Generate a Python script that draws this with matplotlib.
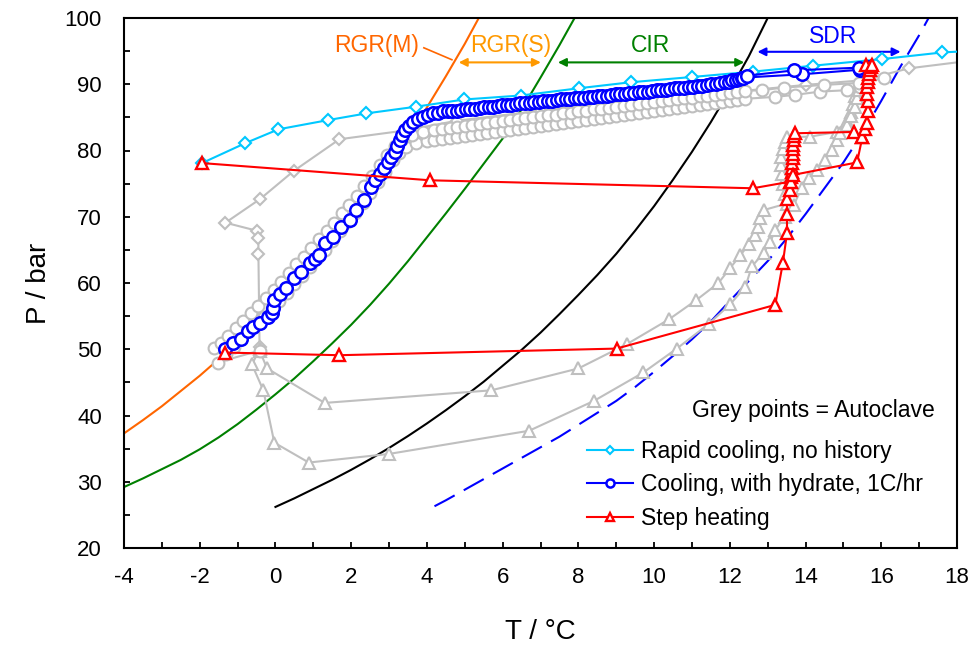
import matplotlib
matplotlib.use("Agg")
import matplotlib.pyplot as plt
import numpy as np

plt.rcParams["font.family"] = ["Liberation Sans", "DejaVu Sans"]
plt.rcParams["axes.unicode_minus"] = False

# --- Equilibrium / boundary curves ---
rgrm_T = [-4, -3.5, -3, -2.5, -2, -1.5, -1, -0.5, 0, 0.5, 1, 1.5, 2, 2.5, 3, 3.5, 4, 4.5, 5, 5.37]
rgrm_P = [37.3, 39.3, 41.4, 43.7, 46.0, 48.5, 51.1, 53.9, 56.8, 59.9, 63.1, 66.5, 70.1, 73.9, 77.9,
          82.1, 86.5, 91.2, 96.1, 100.0]

rgrs_T = [-4, -3.5, -3, -2.5, -2, -1.5, -1, -0.5, 0, 0.5, 1, 1.5, 2, 2.5, 3, 3.5, 4, 4.5, 5, 5.5,
          6, 6.5, 7, 7.5, 7.9]
rgrs_P = [29.2, 30.5, 31.9, 33.3, 34.9, 36.7, 38.7, 40.9, 43.2, 45.6, 48.2, 50.9, 53.7, 56.7, 59.9,
          63.3, 66.9, 70.5, 74.2, 78.0, 81.8, 86.2, 91.0, 95.9, 100.0]

cir_T = [0, 0.5, 1, 1.5, 2, 2.5, 3, 3.5, 4, 4.5, 5, 5.5, 6, 6.5, 7, 7.5, 8, 8.5, 9, 9.5, 10, 10.5,
         11, 11.5, 12, 12.5, 13]
cir_P = [26.2, 27.5, 28.9, 30.3, 31.8, 33.4, 35.1, 36.9, 38.8, 40.8, 42.9, 45.1, 47.5, 49.9, 52.5,
         55.3, 58.2, 61.2, 64.4, 67.9, 71.6, 75.6, 79.8, 84.3, 89.1, 94.2, 100.0]

sdr_T = [4.2, 4.5, 5, 5.5, 6, 6.5, 7, 7.5, 8, 8.5, 9, 9.5, 10, 10.5, 11, 11.5, 12, 12.5, 13, 13.5,
         14, 14.5, 15, 15.5, 16, 16.5, 17, 17.25]
sdr_P = [26.3, 27.2, 28.8, 30.4, 32.0, 33.6, 35.2, 36.8, 38.6, 40.4, 42.2, 44.3, 46.6, 49.0, 51.5,
         54.2, 57.3, 60.3, 63.3, 66.7, 70.4, 74.3, 78.2, 82.6, 87.5, 92.6, 97.4, 100.0]

# --- Rapid cooling, no history ---
rapid_T = [-1.94, -0.8, 0.08, 1.4, 2.4, 3.7, 4.98, 6.48, 8.02, 9.38, 11.01, 12.6, 14.2, 16.02, 17.61, 18.6]
rapid_P = [78.1, 81.1, 83.2, 84.6, 85.6, 86.6, 87.7, 88.3, 89.4, 90.3, 91.1, 91.9, 92.8, 93.8, 94.8, 95.1]

# --- Cooling, with hydrate, 1C/hr ---
cool_T = [-1.32, -1.13, -0.91, -0.73, -0.58, -0.42, -0.2, -0.1, -0.07, -0.03, 0.11, 0.28, 0.5, 0.68,
          0.9, 1.05, 1.16, 1.3, 1.52, 1.74, 1.96, 2.13, 2.35, 2.53, 2.64, 2.75, 2.86, 2.97, 3.06, 3.15,
          3.22, 3.28, 3.35, 3.41, 3.52, 3.63, 3.76, 3.9, 4.03, 4.16, 4.3, 4.43,
          4.55, 4.67, 4.79, 4.91, 5.03, 5.15, 5.27, 5.39, 5.51, 5.63, 5.75, 5.87, 5.99, 6.11, 6.23,
          6.35, 6.47, 6.59, 6.71, 6.83, 6.95, 7.07, 7.19, 7.31, 7.43, 7.55, 7.67, 7.79, 7.91, 8.03,
          8.15, 8.27, 8.39, 8.51, 8.63, 8.75, 8.87, 8.99, 9.11, 9.23, 9.35, 9.47, 9.59, 9.71, 9.83,
          9.95, 10.07, 10.19, 10.31, 10.43, 10.55, 10.67, 10.79, 10.91, 11.03, 11.15, 11.27, 11.39,
          11.51, 11.63, 11.75, 11.87, 11.97, 12.07, 12.16, 12.24, 12.31, 12.36,
          13.9, 15.45, 15.65, 15.4, 13.7, 12.45]
cool_P = [50.1, 50.9, 51.5, 52.7, 53.3, 53.9, 54.9, 55.5, 56.2, 57.4, 58.4, 59.2, 60.7, 61.7,
          63.0, 63.6, 64.2, 66.0, 67.0, 68.5, 69.5, 71.0, 72.5, 74.5, 75.5, 76.5, 77.4, 78.3, 79.0, 79.8,
          80.7, 81.6, 82.4, 83.1, 83.7, 84.3, 84.7, 85.1, 85.4, 85.6, 85.7, 85.9,
          85.9, 86.0, 86.0, 86.1, 86.2, 86.3, 86.3, 86.4, 86.5, 86.6, 86.6, 86.7, 86.8, 86.9, 86.9,
          87.0, 87.1, 87.1, 87.2, 87.3, 87.3, 87.4, 87.5, 87.5, 87.6, 87.7, 87.7, 87.8, 87.9, 87.9,
          88.0, 88.1, 88.1, 88.2, 88.3, 88.3, 88.4, 88.5, 88.5, 88.6, 88.7, 88.7, 88.8, 88.9, 88.9,
          89.0, 89.1, 89.1, 89.2, 89.3, 89.4, 89.4, 89.5, 89.6, 89.6, 89.7, 89.8, 89.9,
          90.0, 90.1, 90.2, 90.3, 90.4, 90.6, 90.7, 90.8, 90.9, 91.0,
          91.5, 92.2, 92.6, 92.5, 92.1, 91.3]

# --- Step heating (two runs) ---
step1_T = [-1.94, 4.09, 12.61, 13.6, 13.62, 13.63, 13.64, 13.65, 13.66, 13.67, 13.68, 13.68, 13.69,
           13.7, 13.72, 15.29, 15.5]
step1_P = [78.1, 75.5, 74.3, 75.3, 76.0, 76.7, 77.4, 78.1, 78.8, 79.5, 80.2, 80.9, 81.6,
           82.2, 82.6, 82.8, 82.0]
step2_T = [-1.32, 1.68, 9.01, 13.2, 13.4, 13.51, 13.51, 13.51, 13.6, 13.62, 13.66, 15.36, 15.5, 15.58,
           15.62, 15.64, 15.64, 15.63, 15.62, 15.64, 15.66, 15.68, 15.7, 15.72, 15.6, 15.75]
step2_P = [49.5, 49.1, 50.1, 56.7, 63.0, 67.5, 70.4, 72.7, 74.0, 75.3, 76.3, 78.2, 82.0, 83.3,
           84.2, 85.9, 87.4, 88.6, 89.6, 90.3, 91.0, 91.6, 92.2, 92.6, 92.9, 92.9]

# --- Autoclave (grey) ---
gd_T = [18.7, 16.73, 15.5, 14.0, 12.0, 9.5, 7.0, 4.8, 3.4, 1.69, 0.48, -0.4, -1.32, -0.5, -0.45, -0.45, -0.42]
gd_P = [93.8, 92.4, 90.6, 89.9, 88.8, 87.4, 86.0, 84.5, 83.0, 81.7, 76.9, 72.7, 69.1, 67.9, 66.8, 64.4, 50.4]

gc1_T = [-1.61, -1.45, -1.25, -1.05, -0.85, -0.65, -0.45, -0.25, -0.05, 0.15, 0.35, 0.55, 0.75, 0.95,
         1.15, 1.35, 1.55, 1.75, 1.95, 2.15, 2.35, 2.55, 2.75, 2.95, 3.15, 3.35, 3.6, 3.9,
         4.2, 4.4, 4.6, 4.8, 5.0, 5.2, 5.4, 5.6, 5.8, 6.0, 6.2, 6.4, 6.6, 6.8, 7.0, 7.2, 7.4, 7.6,
         7.8, 8.0, 8.2, 8.4, 8.6, 8.8, 9.0, 9.2, 9.4, 9.6, 9.8, 10.0, 10.2, 10.4, 10.6, 10.8, 11.0,
         11.2, 11.4, 11.6, 11.8, 12.0, 12.2, 12.4, 12.85, 13.42, 14.5, 15.4, 16.07]
gc1_P = [50.2, 51.0, 52.0, 53.2, 54.3, 55.4, 56.5, 57.8, 59.0, 60.2, 61.5, 62.8, 64.0, 65.3,
         66.6, 67.8, 69.1, 70.5, 71.8, 73.2, 74.7, 76.2, 77.8, 79.3, 80.7, 81.7, 82.4, 82.8,
         83.1, 83.3, 83.4, 83.6, 83.7, 83.9, 84.0, 84.2, 84.3, 84.4, 84.6, 84.7, 84.9, 85.0, 85.2,
         85.3, 85.4, 85.6, 85.7, 85.9, 86.0, 86.2, 86.3, 86.4, 86.6, 86.7, 86.9, 87.0, 87.2, 87.3,
         87.4, 87.6, 87.7, 87.9, 88.0, 88.2, 88.3, 88.4, 88.6, 88.7, 88.9, 89.0, 89.1, 89.5, 89.9,
         90.2, 90.9]

gc2_T = [-0.42, -1.53, -1.3, -1.1, -0.9, -0.7, -0.5, -0.3, -0.1, 0.1, 0.3, 0.5, 0.7, 0.9, 1.1, 1.3,
         1.5, 1.7, 1.9, 2.1, 2.3, 2.5, 2.7, 2.9, 3.1, 3.25, 3.45, 3.7, 4.0, 4.2, 4.4, 4.6, 4.8, 5.0,
         5.2, 5.4, 5.6, 5.8, 6.0, 6.2, 6.4, 6.6, 6.8, 7.0, 7.2, 7.4, 7.6, 7.8, 8.0, 8.2, 8.4, 8.6,
         8.8, 9.0, 9.2, 9.4, 9.6, 9.8, 10.0, 10.2, 10.4, 10.6, 10.8, 11.0, 11.2, 11.4, 11.6, 11.8,
         12.0, 12.2, 12.4, 13.2, 13.73, 14.39, 15.1, 15.45]
gc2_P = [49.8, 48.0, 49.3, 50.4, 51.6, 52.7, 53.8, 54.9, 56.1, 57.3, 58.5, 59.8, 61.1, 62.4, 63.7, 65.0,
         66.4, 67.8, 69.2, 70.6, 72.1, 73.6, 75.2, 76.8, 78.5, 79.6, 80.5, 81.1, 81.4, 81.6, 81.8, 81.9,
         82.1, 82.2, 82.4, 82.5, 82.7, 82.8, 83.0, 83.1, 83.3, 83.4, 83.6, 83.7, 83.9, 84.0, 84.2,
         84.3, 84.5, 84.6, 84.8, 84.9, 85.1, 85.2, 85.4, 85.5, 85.7, 85.8, 86.0, 86.1, 86.3, 86.4,
         86.6, 86.7, 86.9, 87.0, 87.2, 87.3, 87.5, 87.6, 87.8, 88.1, 88.4, 88.9, 89.1, 89.6]

gt1_T = [-0.42, -0.22, 1.3, 5.7, 8.0, 9.29, 10.39, 11.11, 11.7, 12.0, 12.28, 12.51, 12.67, 12.74, 12.8,
         12.89, 13.51, 13.45, 13.4, 13.38, 13.35, 13.35, 13.4, 13.45, 13.5, 14.13, 14.83, 15.1, 15.2,
         15.25, 15.3, 15.35, 15.45]
gt1_P = [49.8, 47.1, 41.9, 43.8, 47.1, 50.8, 54.5, 57.4, 60.0, 62.2, 64.2, 65.9, 67.2, 68.5, 69.8,
         71.0, 72.0, 73.5, 75.0, 76.5, 77.8, 79.0, 80.2, 81.3, 82.0, 82.1, 82.8, 84.5, 85.8,
         87.0, 88.2, 89.3, 90.3]
gt2_T = [-0.42, -0.62, -0.32, -0.03, 0.88, 3.0, 6.7, 8.41, 9.72, 10.6, 11.44, 12.01, 12.41, 12.58, 12.89,
         13.07, 13.2, 13.45, 13.69, 13.9, 14.1, 14.3, 14.52, 14.7, 14.83, 14.92, 15.1, 15.2, 15.3,
         15.35, 15.4, 15.5]
gt2_P = [50.0, 47.7, 43.8, 35.9, 32.9, 34.2, 37.7, 42.2, 46.5, 50.1, 53.8, 56.8, 59.4, 62.5, 64.5,
         66.2, 68.0, 70.0, 71.8, 74.3, 75.8, 77.1, 78.6, 80.1, 81.6, 82.6, 83.8, 85.2, 86.6,
         88.0, 89.2, 90.2]

# --- Colours ---
GREY = "#BFBFBF"
ORANGE = "#FF6600"
AMBER = "#FF9900"
GREEN = "#008000"
BLUE = "#0000FF"
CYAN = "#00C8FF"
RED = "#FF0000"

fig = plt.figure(figsize=(9.73, 6.46), dpi=100)
ax = fig.add_axes([124 / 973, 1 - 548 / 646, (957 - 124) / 973, (548 - 18) / 646])

# curves
ax.plot(rgrm_T, rgrm_P, color=ORANGE, lw=1.5, zorder=1)
ax.plot(rgrs_T, rgrs_P, color=GREEN, lw=1.5, zorder=1)
ax.plot(cir_T, cir_P, color="black", lw=1.5, zorder=1)
ax.plot(sdr_T, sdr_P, color=BLUE, lw=1.5, ls=(0, (11, 5)), zorder=1)

# autoclave points
mk = dict(color=GREY, lw=1.5, mfc="white", mec=GREY, mew=1.5, zorder=2)
ax.plot(gd_T, gd_P, marker="D", ms=6, **mk)
ax.plot(gt1_T, gt1_P, marker="^", ms=8, **mk)
ax.plot(gt2_T, gt2_P, marker="^", ms=8, **mk)
ax.plot(gc2_T, gc2_P, marker="o", ms=8.5, **mk)
ax.plot(gc1_T, gc1_P, marker="o", ms=8.5, **mk)

# experiments
ax.plot(rapid_T, rapid_P, color=CYAN, lw=1.5, marker="D", ms=6, mfc="white", mec=CYAN, mew=1.5,
        zorder=4, label="Rapid cooling, no history")
ax.plot(cool_T, cool_P, color=BLUE, lw=1.5, marker="o", ms=9, mfc="white", mec=BLUE, mew=1.8,
        zorder=5, label="Cooling, with hydrate, 1C/hr")
ax.plot(step1_T, step1_P, color=RED, lw=1.5, marker="^", ms=8, mfc="white", mec=RED, mew=1.7,
        zorder=6, label="Step heating")
ax.plot(step2_T, step2_P, color=RED, lw=1.5, marker="^", ms=8, mfc="white", mec=RED, mew=1.7, zorder=6)

# region annotations
fs = 16.5
ax.text(2.67, 95.9, "RGR(M)", color=ORANGE, fontsize=fs, ha="center", va="center")
ax.plot([3.92, 4.66], [95.5, 93.7], color=ORANGE, lw=1.2)
ax.text(6.2, 95.9, "RGR(S)", color=AMBER, fontsize=fs, ha="center", va="center")
ax.annotate("", xy=(4.84, 93.3), xytext=(7.01, 93.3),
            arrowprops=dict(arrowstyle="<|-|>", color=AMBER, lw=1.5, mutation_scale=12, shrinkA=0, shrinkB=0))
ax.text(9.91, 95.9, "CIR", color=GREEN, fontsize=fs, ha="center", va="center")
ax.annotate("", xy=(7.46, 93.3), xytext=(12.38, 93.3),
            arrowprops=dict(arrowstyle="<|-|>", color=GREEN, lw=1.5, mutation_scale=12, shrinkA=0, shrinkB=0))
ax.text(14.72, 97.2, "SDR", color=BLUE, fontsize=fs, ha="center", va="center")
ax.annotate("", xy=(12.73, 94.9), xytext=(16.51, 94.9),
            arrowprops=dict(arrowstyle="<|-|>", color=BLUE, lw=1.5, mutation_scale=12, shrinkA=0, shrinkB=0))

# axes styling
ax.set_xlim(-4, 18)
ax.set_ylim(20, 100)
ax.set_xticks(np.arange(-4, 19, 2))
ax.set_xticks(np.arange(-4, 19, 1), minor=True)
ax.set_yticks(np.arange(20, 101, 10))
ax.set_yticks(np.arange(20, 101, 5), minor=True)
ax.tick_params(which="both", direction="in", length=4, width=1.3, labelsize=16)
ax.tick_params(axis="x", pad=14)
ax.tick_params(axis="y", pad=16)
for s in ax.spines.values():
    s.set_linewidth(1.5)
ax.set_xlabel("T / °C", fontsize=20, labelpad=22)
ax.set_ylabel("P / bar", fontsize=20, labelpad=9)

# legend
fig.text(935 / 973, 1 - 411 / 646, "Grey points = Autoclave", fontsize=fs, ha="right", va="center")
leg = ax.legend(loc="upper left", bbox_to_anchor=(587 / 973, 1 - 440 / 646), bbox_transform=fig.transFigure,
                frameon=False, fontsize=fs, handlelength=2.0, handletextpad=0.35, labelspacing=0.45,
                borderpad=0, borderaxespad=0, markerscale=0.65)

fig.savefig("out.png", dpi=100)
